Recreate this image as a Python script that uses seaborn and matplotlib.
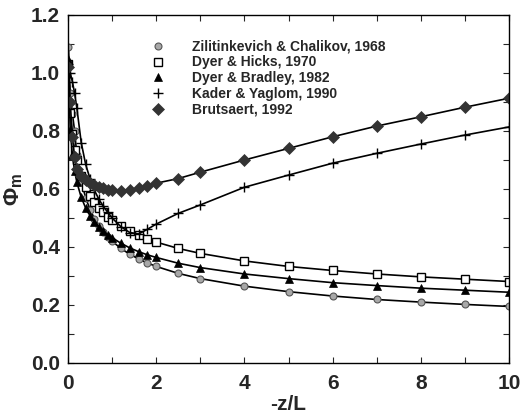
import matplotlib
matplotlib.use("Agg")
import matplotlib.pyplot as plt
import seaborn as sns
import pandas as pd
from matplotlib.ticker import MultipleLocator

x = [0.01, 0.05, 0.1, 0.15, 0.2, 0.3, 0.4, 0.5, 0.6, 0.7, 0.8, 0.9, 1.0,
     1.2, 1.4, 1.6, 1.8, 2.0, 2.5, 3, 4, 5, 6, 7, 8, 9, 10]

zc = [1.09, 0.93, 0.86, 0.80, 0.718, 0.627, 0.570, 0.529, 0.498, 0.473, 0.452, 0.435, 0.420,
      0.395, 0.375, 0.359, 0.345, 0.333, 0.309, 0.291, 0.265, 0.246, 0.231, 0.219, 0.210, 0.202, 0.195]
dh = [1.03, 0.863, 0.788, 0.736, 0.699, 0.644, 0.607, 0.577, 0.554, 0.535, 0.519, 0.505, 0.492,
      0.472, 0.455, 0.441, 0.427, 0.417, 0.395, 0.378, 0.352, 0.333, 0.319, 0.307, 0.297, 0.289, 0.281]
db = [1.05, 0.803, 0.716, 0.662, 0.624, 0.571, 0.535, 0.508, 0.487, 0.470, 0.455, 0.442, 0.432,
      0.413, 0.397, 0.384, 0.373, 0.364, 0.344, 0.329, 0.307, 0.291, 0.277, 0.267, 0.258, 0.251, 0.244]
ky = [1.03, 1.00, 0.97, 0.93, 0.88, 0.76, 0.685, 0.635, 0.595, 0.565, 0.540, 0.520, 0.500,
      0.470, 0.450, 0.445, 0.461, 0.479, 0.516, 0.545, 0.606, 0.648, 0.689, 0.723, 0.755, 0.786, 0.814]
br = [1.02, 0.90, 0.78, 0.71, 0.67, 0.645, 0.632, 0.622, 0.614, 0.607, 0.602, 0.598, 0.595,
      0.594, 0.597, 0.604, 0.611, 0.620, 0.636, 0.658, 0.700, 0.740, 0.780, 0.817, 0.849, 0.882, 0.913]

labels = ["Zilitinkevich & Chalikov, 1968", "Dyer & Hicks, 1970", "Dyer & Bradley, 1982",
          "Kader & Yaglom, 1990", "Brutsaert, 1992"]
series = [zc, dh, db, ky, br]

sns.set_style("ticks")
plt.rcParams['font.family'] = ['Liberation Sans', 'DejaVu Sans']
plt.rcParams['mathtext.fontset'] = 'custom'
plt.rcParams['mathtext.rm'] = 'Liberation Sans:bold'
plt.rcParams['mathtext.it'] = 'Liberation Sans:bold'
plt.rcParams['mathtext.bf'] = 'Liberation Sans:bold'

fig = plt.figure(figsize=(5.23, 4.17), dpi=100)
ax = fig.add_axes([68/523, (417-363)/417, 441/523, 348/417])

styles = [
    dict(marker='o', markersize=5, markerfacecolor='#a8a8a8', markeredgecolor='#555555', markeredgewidth=0.8),
    dict(marker='s', markersize=6, markerfacecolor='white', markeredgecolor='black', markeredgewidth=1.0),
    dict(marker='^', markersize=6, markerfacecolor='black', markeredgecolor='black', markeredgewidth=0.5),
    dict(marker='+', markersize=7, markerfacecolor='none', markeredgecolor='black', markeredgewidth=1.0),
    dict(marker='D', markersize=6, markerfacecolor='#333333', markeredgecolor='#333333', markeredgewidth=0.5),
]

for lab, ys, st in zip(labels, series, styles):
    df = pd.DataFrame({"x": x, "y": ys})
    sns.lineplot(data=df, x="x", y="y", ax=ax, color='black', linewidth=1.2,
                 label=lab, estimator=None, sort=False, **st)

ax.set_xlim(0, 10)
ax.set_ylim(0, 1.2)
ax.xaxis.set_major_locator(MultipleLocator(2))
ax.xaxis.set_minor_locator(MultipleLocator(1))
ax.yaxis.set_major_locator(MultipleLocator(0.2))
ax.yaxis.set_minor_locator(MultipleLocator(0.1))
ax.tick_params(which='both', direction='in', top=True, right=True, length=4, width=0.8)
ax.set_xticks([0, 2, 4, 6, 8, 10])
ax.set_xticklabels(['0', '2', '4', '6', '8', '10'])
ax.set_yticks([0.0, 0.2, 0.4, 0.6, 0.8, 1.0, 1.2])
ax.set_yticklabels(['0.0', '0.2', '0.4', '0.6', '0.8', '1.0', '1.2'])
for lbl in ax.get_xticklabels() + ax.get_yticklabels():
    lbl.set_fontsize(15)
    lbl.set_fontweight('bold')
ax.tick_params(axis='x', pad=8)
ax.tick_params(axis='y', pad=6)
for sp in ax.spines.values():
    sp.set_linewidth(1.0)
    sp.set_color('black')

ax.set_xlabel('-z/L', fontsize=15, fontweight='bold', labelpad=1)
ax.set_ylabel(r'$\Phi_m$', fontsize=16, labelpad=4)

leg = ax.legend(loc='upper left', bbox_to_anchor=(0.176, 0.945), frameon=False,
                prop={'weight': 'bold', 'size': 10}, handlelength=1.0, handletextpad=1.95,
                labelspacing=0.12, borderaxespad=0)
for h in leg.legend_handles:
    h.set_linestyle('none')

fig.savefig("out.png", dpi=100)
